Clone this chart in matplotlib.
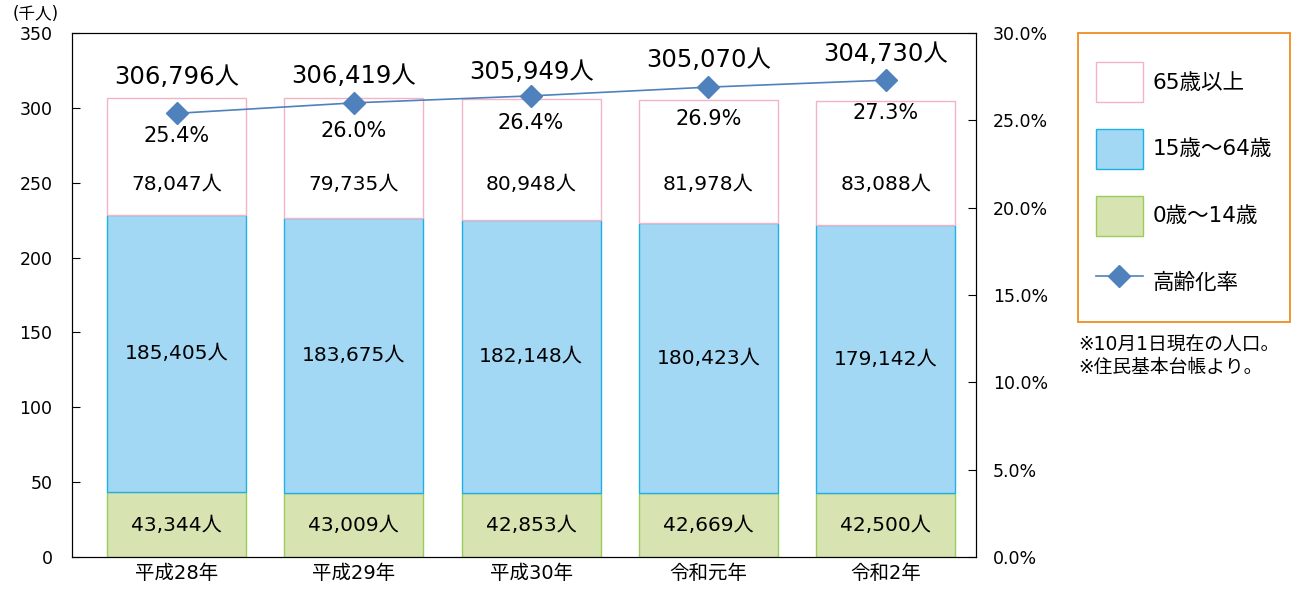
import numpy as np
import matplotlib.pyplot as plt
from matplotlib.patches import Patch, Rectangle
from matplotlib.lines import Line2D

plt.rcParams['font.family'] = ['DejaVu Sans', 'Noto Sans CJK JP']

# data (人 / %)
years = ['平成28年', '平成29年', '平成30年', '令和元年', '令和2年']
age_0_14 = [43344, 43009, 42853, 42669, 42500]
age_15_64 = [185405, 183675, 182148, 180423, 179142]
age_65 = [78047, 79735, 80948, 81978, 83088]
totals = [306796, 306419, 305949, 305070, 304730]
aging_rate = [25.4, 26.0, 26.4, 26.9, 27.3]

c_young = '#d7e4b1'
c_young_e = '#9bcb5a'
c_work = '#a2d8f4'
c_work_e = '#1fb0e6'
c_old = '#ffffff'
c_old_e = '#f2b3c6'
c_line = '#4f81bd'

fig = plt.figure(figsize=(12.92, 5.89), dpi=100)
ax = fig.add_axes([72/1292, 1-557/589, (976-72)/1292, (557-33)/589])

x = np.arange(len(years))
y0 = np.array(age_0_14) / 1000
y1 = np.array(age_15_64) / 1000
y2 = np.array(age_65) / 1000
w = 0.785

ax.bar(x, y0, w, color=c_young, edgecolor=c_young_e, linewidth=1)
ax.bar(x, y1, w, bottom=y0, color=c_work, edgecolor=c_work_e, linewidth=1)
ax.bar(x, y2, w, bottom=y0+y1, color=c_old, edgecolor=c_old_e, linewidth=1)

# label offsets picked to dodge the line
tot_off = [14, 15, 18, 27, 31]
pct_off = [-1.3, -1.6, -1.55, -1.85, -1.9]
for i in range(len(years)):
    ax.text(x[i], y0[i]/2 - 0.5, f'{age_0_14[i]:,}人', ha='center', va='center', fontsize=14.5)
    ax.text(x[i], y0[i] + y1[i]/2, f'{age_15_64[i]:,}人', ha='center', va='center', fontsize=14.5)
    ax.text(x[i], 249, f'{age_65[i]:,}人', ha='center', va='center', fontsize=14.5)
    ax.text(x[i], totals[i]/1000 + tot_off[i], f'{totals[i]:,}人', ha='center', va='center', fontsize=17.5)

ax.set_xlim(-0.59, 4.51)
ax.set_ylim(0, 350)
ax.set_yticks(range(0, 351, 50))
ax.set_xticks(x)
ax.set_xticklabels(years, fontsize=14)
ax.tick_params(axis='y', direction='in', labelsize=12.5, length=6, pad=14)
ax.tick_params(axis='x', length=0, pad=5)
ax.text(-0.04, 1.036, '(千人)', transform=ax.transAxes, ha='center', va='center', fontsize=12)

ax2 = ax.twinx()
ax2.plot(x, aging_rate, color=c_line, marker='D', markersize=11, linewidth=1.2)
ax2.set_ylim(0, 30)
ax2.set_yticks(np.arange(0, 31, 5))
ax2.set_yticklabels([f'{v:.1f}%' for v in np.arange(0, 31, 5)])
ax2.tick_params(axis='y', direction='in', labelsize=12.5, length=6, pad=12)
for i in range(len(years)):
    ax2.text(x[i], aging_rate[i] + pct_off[i], f'{aging_rate[i]:.1f}%', ha='center', va='center', fontsize=15)

handles = [
    Patch(facecolor=c_old, edgecolor=c_old_e, label='65歳以上'),
    Patch(facecolor=c_work, edgecolor=c_work_e, label='15歳～64歳'),
    Patch(facecolor=c_young, edgecolor=c_young_e, label='0歳～14歳'),
    Line2D([0], [0], color=c_line, marker='D', markersize=11, linewidth=1.2, label='高齢化率'),
]
fig.legend(handles=handles, loc='upper left', bbox_to_anchor=(1096/1292, 1-62/589),
           borderaxespad=0, borderpad=0, fontsize=15.5, handlelength=2.18, handleheight=2.48,
           labelspacing=1.25, handletextpad=0.46, frameon=False)
fig.patches.append(Rectangle((1078/1292, 1-322/589), (1290-1078)/1292, (322-33)/589,
                             transform=fig.transFigure, fill=False, edgecolor='#f08c1e', linewidth=1.3))

fig.text(1078/1292, 1-345/589, '※10月1日現在の人口。', fontsize=13.5, va='center')
fig.text(1078/1292, 1-367/589, '※住民基本台帳より。', fontsize=13.5, va='center')

fig.savefig('out.png', dpi=100)
